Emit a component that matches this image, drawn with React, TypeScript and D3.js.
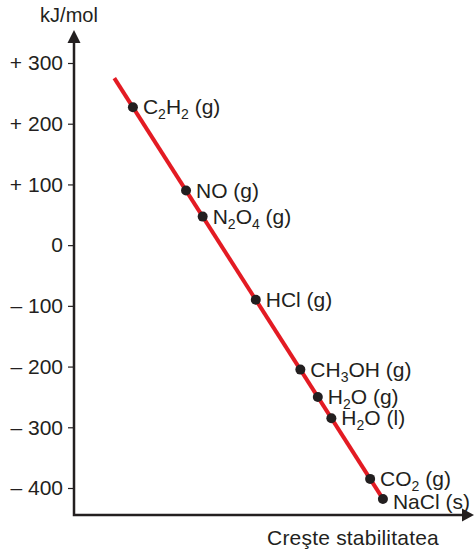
import React, { useEffect, useRef } from "react";
import * as d3 from "d3";

// Enthalpy of formation values (kJ/mol)
const compounds = ["C{2}H{2} (g)", "NO (g)", "N{2}O{4} (g)", "HCl (g)", "CH{3}OH (g)", "H{2}O (g)", "H{2}O (l)", "CO{2} (g)", "NaCl (s)"];
const enthalpies = [227, 90, 47, -90, -205, -250, -285, -385, -418];
const tickValues = [300, 200, 100, 0, -100, -200, -300, -400];
const tickLabels = ["+ 300", "+ 200", "+ 100", "0", "\u2013 100", "\u2013 200", "\u2013 300", "\u2013 400"];
const lineRange = [275, -418];
const yTitle = "kJ/mol";
const xTitle = "Creşte stabilitatea";

const W = 475;
const H = 549;
const AX = 74; // axis x
const AY = 515; // axis y
const FONT = "'Liberation Sans', Arial, Helvetica, sans-serif";
const INK = "#231f20";
const RED = "#e31b23";
const FS = "21px";

export default function App() {
  const ref = useRef<SVGSVGElement>(null);

  useEffect(() => {
    const svg = d3.select(ref.current);
    svg.selectAll("*").remove();

    const y = d3.scaleLinear().domain([-400, 300]).range([488, 63]);
    // stability = -enthalpy
    const x = d3.scaleLinear().domain([-379, 653]).range([AX, 474]);

    // Y axis ticks
    const yAxis = d3
      .axisLeft(y)
      .tickValues(tickValues)
      .tickSize(6)
      .tickPadding(5)
      .tickFormat((d, i) => tickLabels[i]);
    const g = svg.append("g").attr("transform", `translate(${AX},0)`).call(yAxis);
    g.select(".domain").remove();
    g.selectAll(".tick line").attr("stroke", INK).attr("stroke-width", 1.2);
    g.selectAll(".tick text")
      .attr("fill", INK)
      .style("font-family", FONT)
      .style("font-size", FS);

    // Axis lines
    svg
      .append("path")
      .attr("d", `M${AX},40 L${AX},${AY} L466,${AY}`)
      .attr("fill", "none")
      .attr("stroke", INK)
      .attr("stroke-width", 2.5);
    // arrowheads
    svg
      .append("path")
      .attr("d", `M${AX},30 L${AX + 6.5},43 L${AX - 6.5},43 Z`)
      .attr("fill", INK);
    svg
      .append("path")
      .attr("d", `M474,${AY} L462,${AY - 6.5} L462,${AY + 6.5} Z`)
      .attr("fill", INK);

    // Titles
    svg
      .append("text")
      .attr("x", 69)
      .attr("y", 22)
      .attr("text-anchor", "middle")
      .attr("fill", INK)
      .style("font-family", FONT)
      .style("font-size", "20px")
      .text(yTitle);
    svg
      .append("text")
      .attr("x", 353)
      .attr("y", 545)
      .attr("text-anchor", "middle")
      .attr("fill", INK)
      .style("font-family", FONT)
      .style("font-size", FS)
      .style("letter-spacing", "0.2px")
      .text(xTitle);

    // Red line
    const line = d3
      .line<number>()
      .x((v) => x(-v))
      .y((v) => y(v));
    svg
      .append("path")
      .attr("d", line(lineRange))
      .attr("fill", "none")
      .attr("stroke", RED)
      .attr("stroke-width", 4);

    // Points
    const data = compounds.map((c, i) => ({ c, v: enthalpies[i] }));
    svg
      .append("g")
      .selectAll("circle")
      .data(data)
      .join("circle")
      .attr("cx", (d) => x(-d.v))
      .attr("cy", (d) => y(d.v))
      .attr("r", 5)
      .attr("fill", INK);

    // Labels with subscripts
    const labels = svg.append("g");
    data.forEach((d, i) => {
      const t = labels
        .append("text")
        .attr("x", x(-d.v) + 10)
        .attr("y", y(d.v) + (i === data.length - 1 ? 10 : 7))
        .attr("fill", INK)
        .style("font-family", FONT)
        .style("font-size", FS);
      const parts = d.c.split(/(\{\d+\})/).filter((p) => p.length);
      let shifted = false;
      parts.forEach((p) => {
        if (p.startsWith("{")) {
          t.append("tspan")
            .attr("dy", shifted ? 0 : 5)
            .style("font-size", "14px")
            .text(p.slice(1, -1));
          shifted = true;
        } else {
          t.append("tspan")
            .attr("dy", shifted ? -5 : 0)
            .text(p);
          shifted = false;
        }
      });
    });
  }, []);

  return (
    <svg
      ref={ref}
      width={W}
      height={H}
      style={{ position: "absolute", left: 0, top: 0, background: "#fff" }}
    />
  );
}
